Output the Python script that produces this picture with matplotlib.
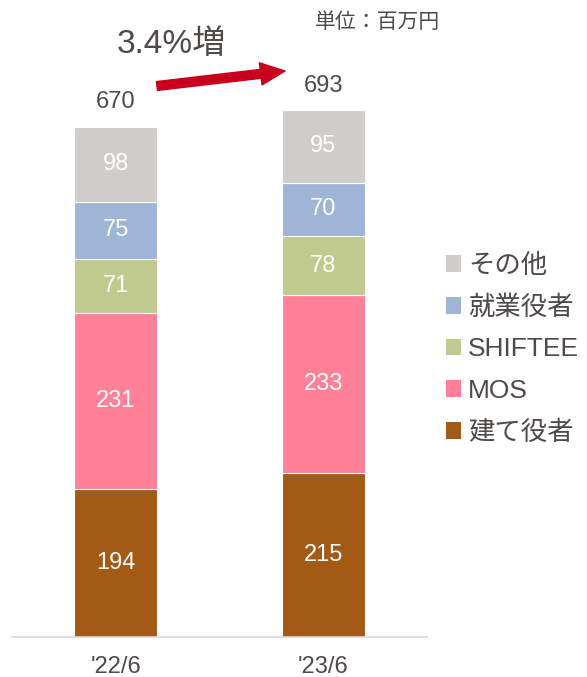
import matplotlib
matplotlib.use("Agg")
import matplotlib.pyplot as plt
from matplotlib.patches import Patch
import numpy as np

plt.rcParams['font.family'] = ['Liberation Sans', 'Noto Sans CJK JP', 'DejaVu Sans']

# data
periods = ["'22/6", "'23/6"]
segments = ["建て役者", "MOS", "SHIFTEE", "就業役者", "その他"]
tate = [194, 215]
mos = [231, 233]
shiftee = [71, 78]
shugyo = [75, 70]
other = [98, 95]
totals = [670, 693]
growth = "3.4%増"
unit = "単位：百万円"

colors = ["#A35A14", "#FF8197", "#C0CA8E", "#9EB5D6", "#D0CCC9"]
text_col = "#4F4A47"

fig = plt.figure(figsize=(5.87, 6.77), dpi=100)
ax = fig.add_axes([12 / 587, 40 / 677, 415 / 587, 610 / 677])

x = np.arange(len(periods))
bottom = np.zeros(len(periods))
for name, vals, c in zip(segments, [tate, mos, shiftee, shugyo, other], colors):
    ax.bar(x, vals, width=0.4, bottom=bottom, color=c, edgecolor="white", linewidth=0.8)
    for xi, b, v in zip(x, bottom, vals):
        ax.text(xi, b + v / 2, str(v), ha="center", va="center", color="white", fontsize=17)
    bottom += np.array(vals)

for xi, b, t in zip(x, bottom, totals):
    ax.text(xi, b + 32, str(t), ha="center", va="center", color=text_col, fontsize=17)

ax.set_xlim(-0.5, 1.5)
ax.set_ylim(0, 800)
ax.set_yticks([])
ax.set_xticks(x)
ax.set_xticklabels(periods, fontsize=17, color=text_col)
ax.tick_params(axis="x", length=0, pad=14)
for s in ["top", "left", "right"]:
    ax.spines[s].set_visible(False)
ax.spines["bottom"].set_color("#D9D9D9")
ax.spines["bottom"].set_linewidth(1.2)

# growth arrow
ax.annotate("", xy=(285, 606), xytext=(157, 591), xycoords="figure pixels",
            textcoords="figure pixels",
            arrowprops=dict(arrowstyle="simple,head_length=1.1,head_width=1.0,tail_width=0.4",
                            color="#C8001E", mutation_scale=16, shrinkA=0, shrinkB=0))
fig.text(171 / 587, 1 - 44 / 677, growth, ha="center", va="center", fontsize=24, color=text_col)
fig.text(378 / 587, 1 - 22 / 677, unit, ha="center", va="center", fontsize=15, color=text_col)

handles = [Patch(facecolor=c, edgecolor="none") for c in colors][::-1]
fig.legend(handles, segments[::-1], loc="upper left", bbox_to_anchor=(435 / 587, 1 - 243 / 677),
           frameon=False, fontsize=19, handlelength=0.6, handleheight=0.6,
           handletextpad=0.25, labelspacing=0.66, labelcolor=text_col, borderaxespad=0)

fig.savefig("out.png", dpi=100)
